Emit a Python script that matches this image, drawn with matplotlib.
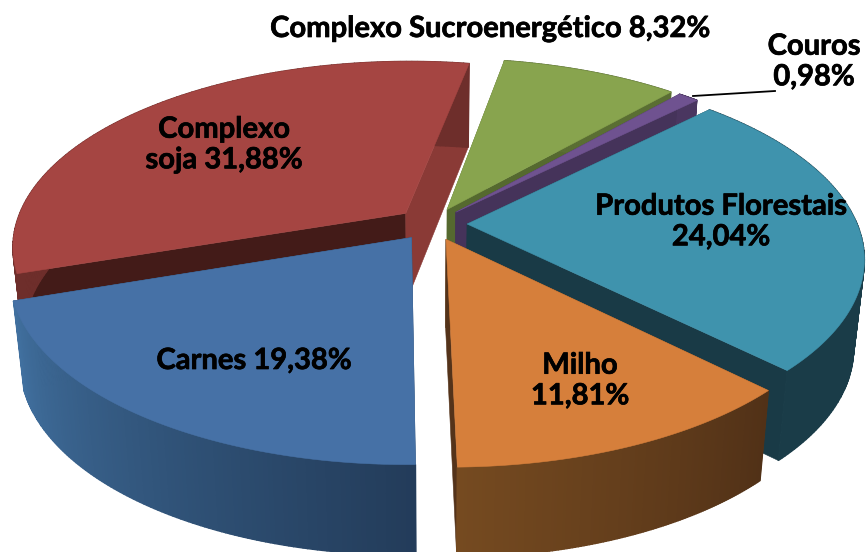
import numpy as np
import matplotlib as mpl
mpl.use('Agg')
import matplotlib.pyplot as plt
import matplotlib.patheffects as pe
from matplotlib.colors import to_rgb

# clockwise from the start angle, as in the source chart
categories = ['Carnes', 'Complexo soja', 'Complexo Sucroenergético', 'Couros', 'Produtos Florestais', 'Milho']
shares = [19.38, 31.88, 8.32, 0.98, 24.04, 11.81]
labels = ['Carnes 19,38%', 'Complexo\nsoja 31,88%', 'Complexo Sucroenergético 8,32%',
          'Couros\n0,98%', 'Produtos Florestais\n24,04%', 'Milho\n11,81%']
label_x = [254, 224, 490, 814, 721, 580]
label_y = [361, 145, 29, 62, 222, 381]

top_colors = ['#4671a6', '#a54542', '#88a44e', '#6f5290', '#3f93ad', '#d67f3b']
rim_left = ['#41709f', '#6e2e2b', '#5a6e33', '#4a3660', '#1a3c48', '#754a20']
rim_right = ['#233c5a', '#6e2e2b', '#5a6e33', '#4a3660', '#1a3c48', '#513117']
wall_start = ['#2a4666', '#431b18', '#5a6e33', '#45335a', '#1a3c48', '#6a4520']
wall_end = ['#2a4666', '#8a3a36', '#55692f', '#45335a', '#193a46', '#54331a']
draw_order = [1, 2, 3, 4, 0, 5]

start_angle = 179
cx, cy = 432, 224
rx, ry = 390, 182
persp = 0.175
depth = 88
explode = 0.09


def project(X, Y, Z=0.0):
    s = 1 / (1 - persp * Y)
    shrink = 1 - 0.025 * Z
    sx = cx + rx * X * s * shrink
    sy = cy + ry * Y * s * shrink + depth * Z * (1 + 0.09 * Y)
    return sx, sy


def blend(c1, c2, t):
    c1, c2 = np.array(to_rgb(c1)), np.array(to_rgb(c2))
    return tuple(c1 + (c2 - c1) * t)


fig = plt.figure(figsize=(8.67, 5.52), dpi=100)
ax = fig.add_axes([0, 0, 1, 1])
ax.set_xlim(0, 867)
ax.set_ylim(552, 0)
ax.axis('off')

sweeps = np.array(shares) / np.sum(shares) * 360
starts = start_angle + np.concatenate([[0], np.cumsum(sweeps)[:-1]])

for n, i in enumerate(draw_order):
    a0, a1 = starts[i], starts[i] + sweeps[i]
    mid = np.radians((a0 + a1) / 2)
    ox, oy = explode * np.sin(mid), -explode * np.cos(mid)
    t = np.radians(np.linspace(a0, a1, 120))
    X = ox + np.sin(t)
    Y = oy - np.cos(t)

    # the two cut walls go first, the outer wall and top cover the hidden one
    for k, col in zip([0, -1], [wall_start[i], wall_end[i]]):
        wx = np.array([ox, X[k]])
        wy = np.array([oy, Y[k]])
        x0, y0 = project(wx, wy, 0)
        x1, y1 = project(wx, wy, 1)
        ax.fill(np.r_[x0, x1[::-1]], np.r_[y0, y1[::-1]], color=col, lw=0.4, zorder=1 + n * 3)

    # outer wall, short quads so the shade can change along the arc
    for j in range(len(t) - 1):
        qx0, qy0 = project(X[j:j + 2], Y[j:j + 2], 0)
        qx1, qy1 = project(X[j:j + 2], Y[j:j + 2], 1)
        col = blend(rim_right[i], rim_left[i], j / (len(t) - 2))
        ax.fill(np.r_[qx0, qx1[::-1]], np.r_[qy0, qy1[::-1]], color=col, lw=1.0, zorder=2 + n * 3)

    # top face
    px, py = project(np.r_[ox, X], np.r_[oy, Y], 0)
    ax.fill(px, py, color=top_colors[i], lw=0.4, zorder=3 + n * 3)

# leader for the small slice
ax.plot([693, 775], [96, 91], color='black', lw=1.3, zorder=40)

for txt, x, y in zip(labels, label_x, label_y):
    ax.text(x, y, txt, ha='center', va='center', fontsize=21, fontweight='bold',
            family='Lato', linespacing=1.22, color='black', zorder=50,
            path_effects=[pe.withStroke(linewidth=0.5, foreground='black')])

fig.savefig('out.png', dpi=100)
